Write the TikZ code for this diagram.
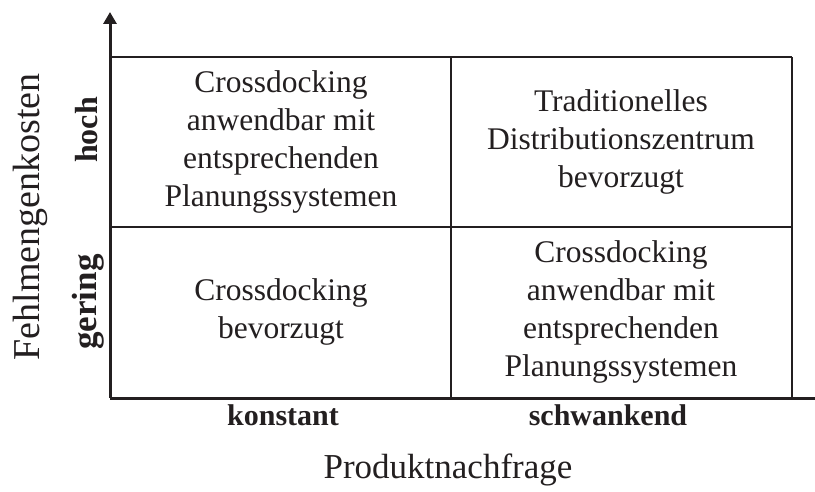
\documentclass[tikz,border=0pt]{standalone}
\usepackage{fontspec}
\setmainfont{Liberation Serif}
\usepackage{xcolor}
\usetikzlibrary{arrows.meta}
\definecolor{ink}{HTML}{231F20}
\tikzset{
  cell/.style={align=center,inner sep=0pt,text=ink,font=\fontsize{31.5}{38}\selectfont},
  level/.style={inner sep=0pt,text=ink,font=\bfseries\fontsize{30}{36}\selectfont},
  axistitle/.style={inner sep=0pt,text=ink,font=\fontsize{35}{42}\selectfont},
  axis/.style={-{Triangle[length=12pt,width=13pt]},draw=ink,line width=3pt},
}
\begin{document}
\begin{tikzpicture}[x=1pt,y=-1pt]
		\useasboundingbox (0,0) rectangle (815,492);
		% corners of the matrix
		\coordinate (O) at (110,398);
		\coordinate (Y) at (110,12);
		\coordinate (X) at (827,398);
		\coordinate (TL) at (110,57);
		\coordinate (TR) at (792,57);
		\coordinate (BR) at (792,398);
		\coordinate (ML) at (110,227);
		\coordinate (MR) at (792,227);
		\coordinate (MT) at (451,57);
		\coordinate (MB) at (451,398);
		%
		\path[draw=ink,line width=1.2pt]
		% grid lines
		(TL) edge (TR)
		(TR) edge (BR)
		(ML) edge (MR)
		(MT) edge (MB);
		% axes
		\draw[axis] (O) -- (Y);
		\draw[axis] (O) -- (X);
		%
		\node[cell] (c11) at (281,142) {Crossdocking\\anwendbar mit\\entsprechenden\\Planungssystemen};
		\node[cell] (c12) at (621,142) {Traditionelles\\Distributionszentrum\\bevorzugt};
		\node[cell] (c21) at (281,312) {Crossdocking\\bevorzugt};
		\node[cell] (c22) at (621,312) {Crossdocking\\anwendbar mit\\entsprechenden\\Planungssystemen};
		%
		\node[level,anchor=base] (konstant) at (283,425) {konstant};
		\node[level,anchor=base] (schwankend) at (608,425) {schwankend};
		\node[axistitle,anchor=base] (xtitle) at (448,478) {Produktnachfrage};
		\node[level,font=\bfseries\fontsize{32}{38}\selectfont,rotate=90,anchor=base] (hoch) at (97,130) {hoch};
		\node[level,font=\bfseries\fontsize{35}{42}\selectfont,rotate=90,anchor=base] (gering) at (96,302) {gering};
		\node[axistitle,font=\fontsize{38}{46}\selectfont,rotate=90,anchor=base] (ytitle) at (39,217) {Fehlmengenkosten};
\end{tikzpicture}
\end{document}
